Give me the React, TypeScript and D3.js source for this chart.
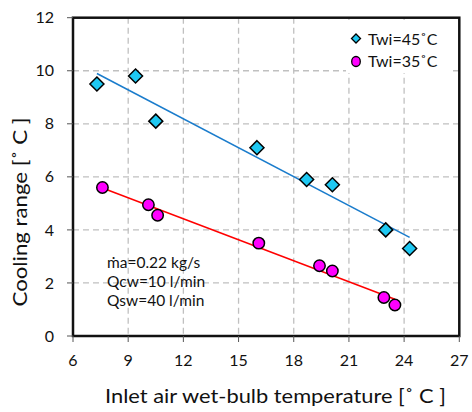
import React from "react";
import * as d3 from "d3";

const xTicks = [6, 9, 12, 15, 18, 21, 24, 27];
const yTicks = [0, 2, 4, 6, 8, 10, 12];

const twi45X = [7.3, 9.4, 10.5, 16.0, 18.7, 20.1, 23.0, 24.3];
const twi45Y = [9.5, 9.8, 8.1, 7.1, 5.9, 5.7, 4.0, 3.3];

const twi35X = [7.6, 10.1, 10.6, 16.1, 19.4, 20.1, 22.9, 23.5];
const twi35Y = [5.6, 4.95, 4.55, 3.5, 2.65, 2.45, 1.45, 1.17];

const legendLabels = ["Twi=45˚C", "Twi=35˚C"];
const noteLines = ["ṁa=0.22 kg/s", "Qcw=10 l/min", "Qsw=40 l/min"];
const xTitle = "Inlet air wet-bulb temperature [˚ C ]";
const yTitle = "Cooling range [˚ C ]";

const W = 472;
const H = 412;
const FONT = "Lato, 'Open Sans', sans-serif";

function fit(xs: number[], ys: number[]) {
  const mx = d3.mean(xs)!;
  const my = d3.mean(ys)!;
  let sxy = 0;
  let sxx = 0;
  xs.forEach((x, i) => {
    sxy += (x - mx) * (ys[i] - my);
    sxx += (x - mx) * (x - mx);
  });
  const b = sxy / sxx;
  const a = my - b * mx;
  const x0 = d3.min(xs)!;
  const x1 = d3.max(xs)!;
  return [
    [x0, a + b * x0],
    [x1, a + b * x1],
  ] as [number, number][];
}

export default function App() {
  const x = d3.scaleLinear().domain([6, 27]).range([73, 459.3]);
  const y = d3.scaleLinear().domain([0, 12]).range([336, 17.7]);
  const line = d3
    .line<[number, number]>()
    .x((d) => x(d[0]))
    .y((d) => y(d[1]));
  const diamond = (cx: number, cy: number, r: number) =>
    `M${cx},${cy - r}L${cx + r},${cy}L${cx},${cy + r}L${cx - r},${cy}Z`;

  const fit45 = fit(twi45X, twi45Y);
  const fit35 = fit(twi35X, twi35Y);

  const [x0, x1] = x.range();
  const [y0, y1] = y.range();

  return (
    <svg
      width={W}
      height={H}
      style={{ position: "absolute", left: 0, top: 0, background: "#fff" }}
      fontFamily={FONT}
    >
      <rect x={0} y={0} width={W} height={H} fill="#fff" />
      {/* grid */}
      {xTicks.slice(1, -1).map((t) => (
        <line
          key={"gx" + t}
          x1={x(t)}
          x2={x(t)}
          y1={y1}
          y2={y0}
          stroke="#c0c0c0"
          strokeWidth={1.3}
          strokeDasharray="6,4"
        />
      ))}
      {yTicks.slice(1, -1).map((t) => (
        <line
          key={"gy" + t}
          x1={x0}
          x2={x1}
          y1={y(t)}
          y2={y(t)}
          stroke="#c0c0c0"
          strokeWidth={1.3}
          strokeDasharray="6,4"
        />
      ))}
      {/* legend background */}
      <rect x={346} y={20} width={105} height={53} fill="#fff" />
      {/* trend lines */}
      <path d={line(fit45)!} stroke="#1a7ccc" strokeWidth={1.5} fill="none" />
      <path d={line(fit35)!} stroke="#ff0000" strokeWidth={1.5} fill="none" />
      {/* markers */}
      {twi45X.map((v, i) => (
        <path
          key={"d" + i}
          d={diamond(x(v), y(twi45Y[i]), 7)}
          fill="#1ec8f2"
          stroke="#000"
          strokeWidth={1.5}
        />
      ))}
      {twi35X.map((v, i) => (
        <circle
          key={"c" + i}
          cx={x(v)}
          cy={y(twi35Y[i])}
          r={5.7}
          fill="#ff00ff"
          stroke="#000"
          strokeWidth={1.5}
        />
      ))}
      {/* frame */}
      <rect
        x={x0}
        y={y1}
        width={x1 - x0}
        height={y0 - y1}
        fill="none"
        stroke="#111"
        strokeWidth={2.5}
      />
      {/* ticks */}
      {yTicks.map((t) => (
        <g key={"yt" + t}>
          <line x1={x0 - 6} x2={x0} y1={y(t)} y2={y(t)} stroke="#555" strokeWidth={1} />
          <text
            x={x0 - 19}
            y={y(t)}
            dy="0.35em"
            textAnchor="end"
            fontSize={16}
            fill="#111"
          >
            {t}
          </text>
        </g>
      ))}
      {xTicks.map((t) => (
        <g key={"xt" + t}>
          <line x1={x(t)} x2={x(t)} y1={y0} y2={y0 + 6} stroke="#555" strokeWidth={1} />
          <text x={x(t)} y={366} textAnchor="middle" fontSize={16} fill="#111">
            {t}
          </text>
        </g>
      ))}
      {/* legend */}
      <path d={diamond(356, 38.5, 4.5)} fill="#1ec8f2" stroke="#000" strokeWidth={1.3} />
      <ellipse cx={356} cy={61.5} rx={4.3} ry={5} fill="#ff00ff" stroke="#000" strokeWidth={1.3} />
      {legendLabels.map((l, i) => (
        <text key={l} x={368} y={45 + i * 22} fontSize={16} fill="#111">
          {l}
        </text>
      ))}
      {/* note */}
      {noteLines.map((l, i) => (
        <text key={l} x={107} y={268 + i * 19} fontSize={15.5} fill="#111">
          {l}
        </text>
      ))}
      {/* axis titles */}
      <text
        x={275.5}
        y={403}
        textAnchor="middle"
        fontSize={19}
        fill="#111"
        textLength={341}
        lengthAdjust="spacingAndGlyphs"
      >
        {xTitle}
      </text>
      <text
        transform={`translate(27,212) rotate(-90)`}
        textAnchor="middle"
        fontSize={20}
        fill="#111"
        textLength={189}
        lengthAdjust="spacingAndGlyphs"
      >
        {yTitle}
      </text>
    </svg>
  );
}
